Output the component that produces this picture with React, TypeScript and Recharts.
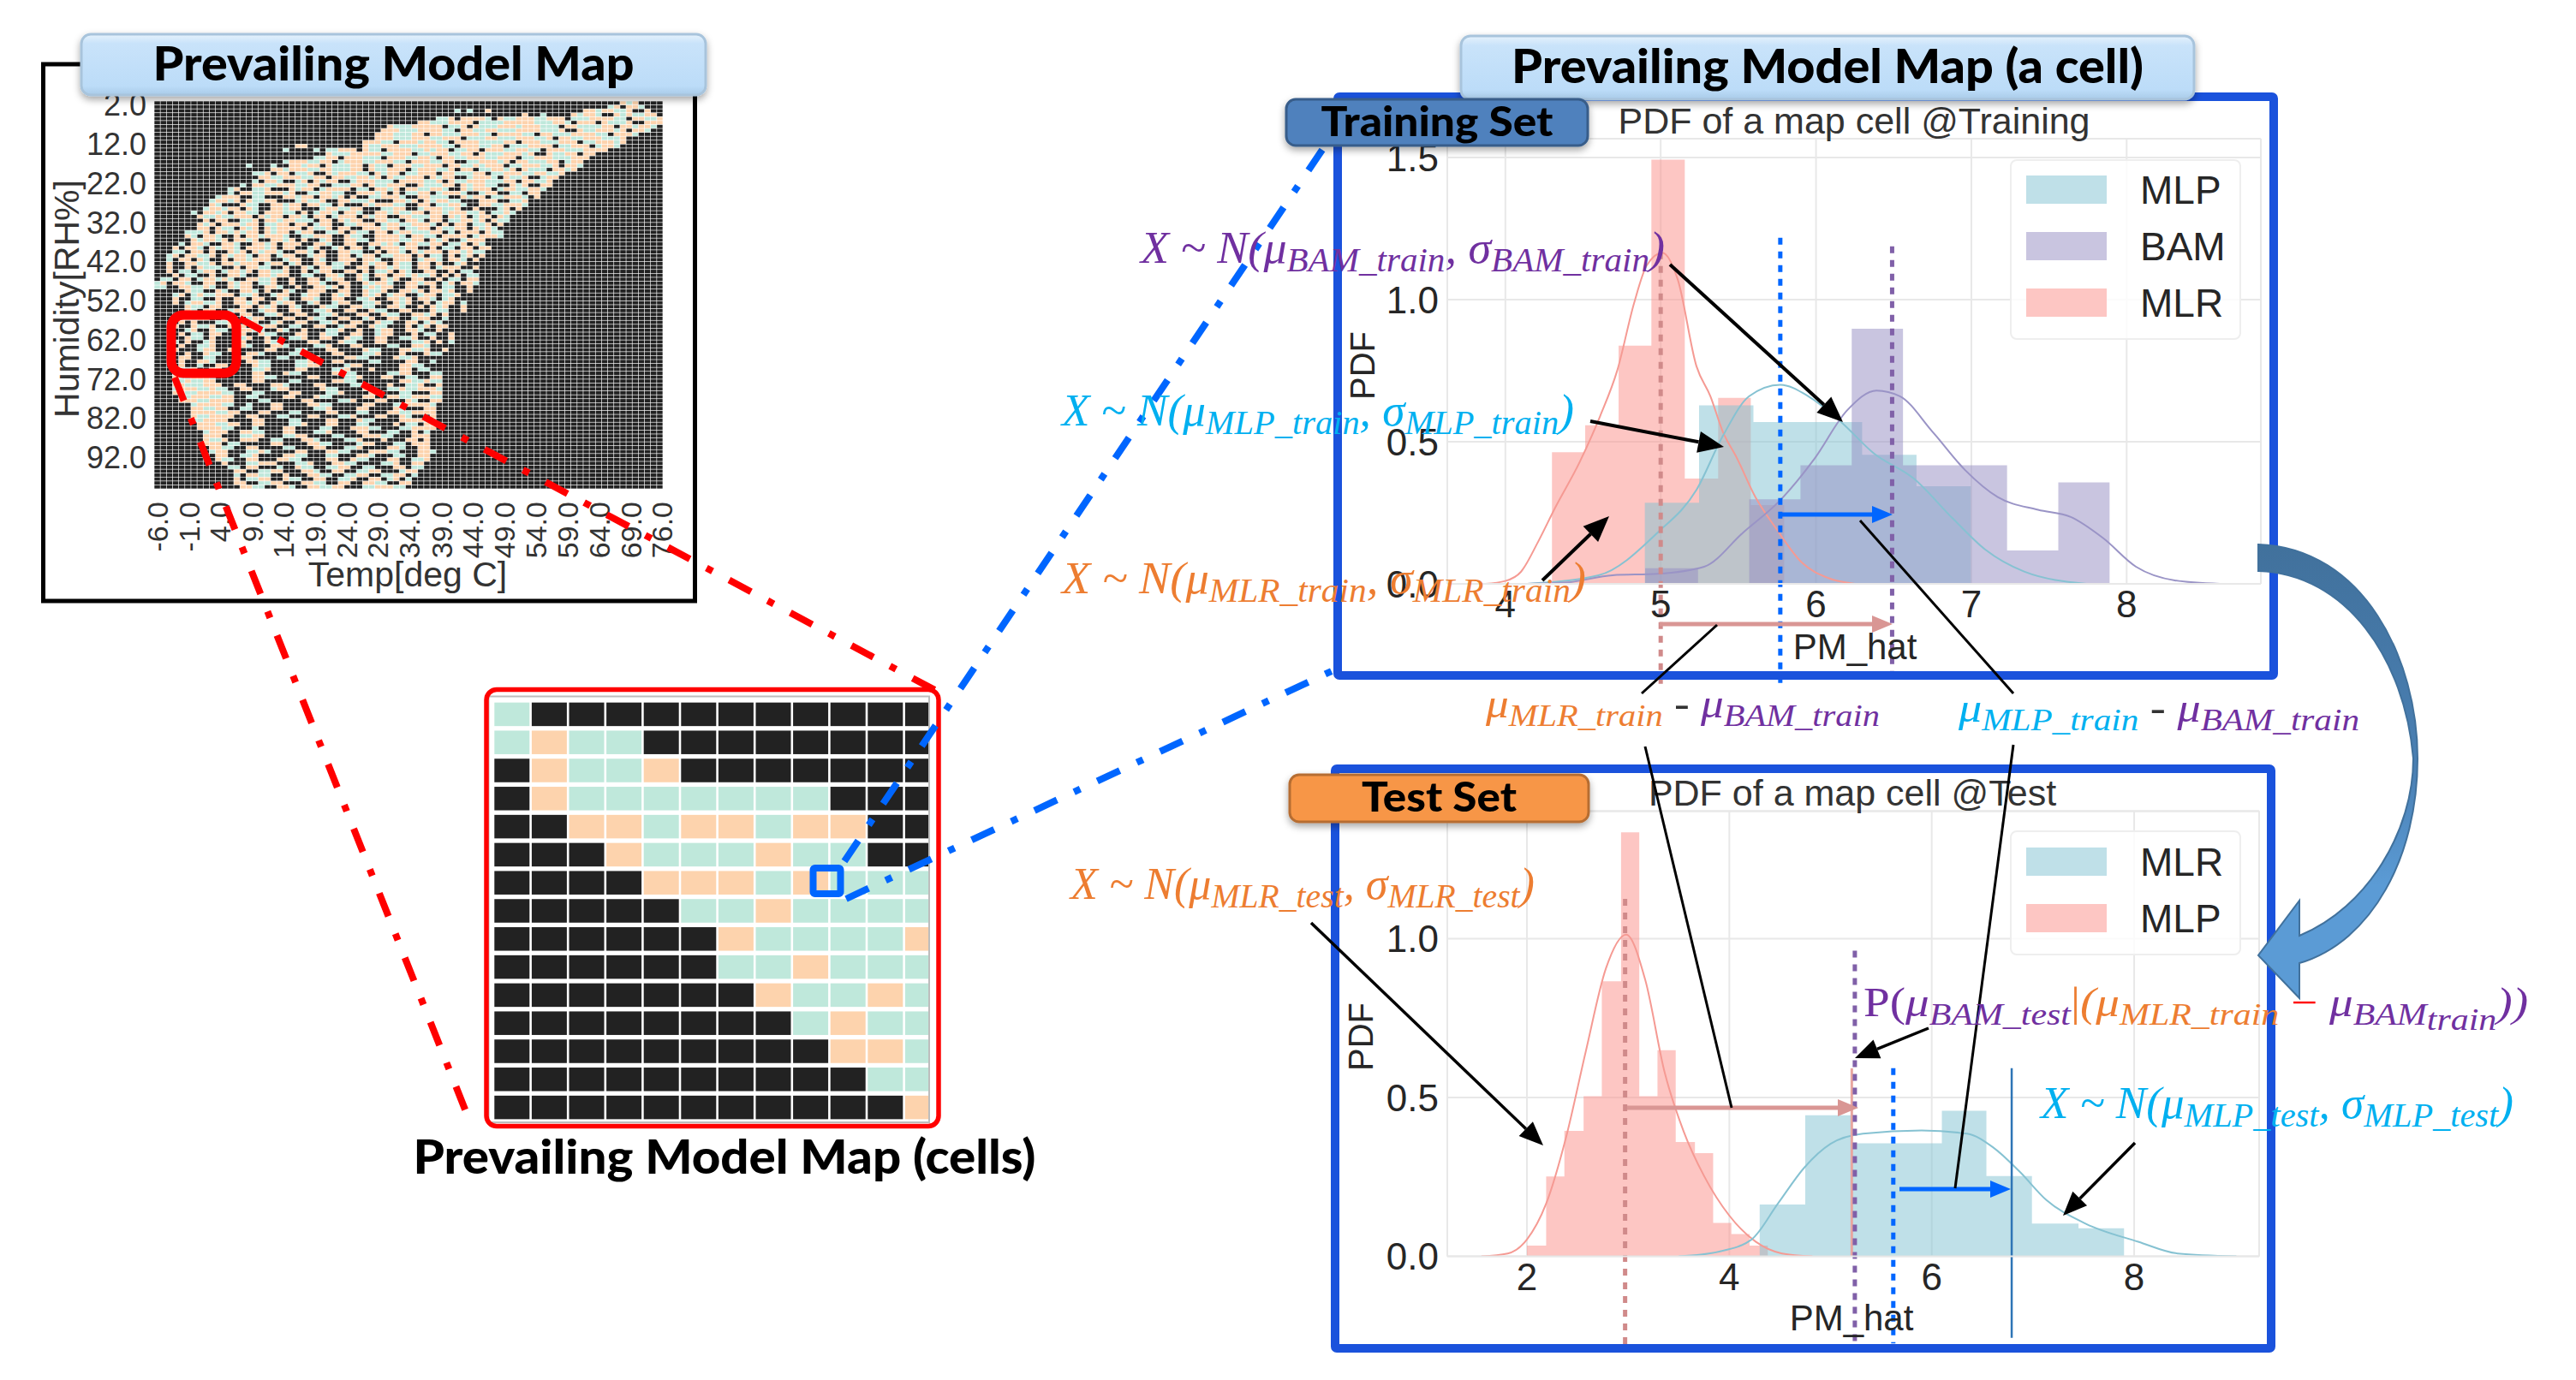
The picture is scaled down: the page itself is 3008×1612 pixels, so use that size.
import { ComposedChart, ScatterChart, Scatter, Area, Line, XAxis, YAxis, CartesianGrid, ReferenceLine, Legend } from 'recharts'

// ---- big map: cell kinds per row, t = teal, p = peach, k = black
const tempTicks = [-6, -1, 4, 9, 14, 19, 24, 29, 34, 39, 44, 49, 54, 59, 64, 69, 76]
const tempTickCols = [0, 5.2, 10.3, 15.5, 20.6, 25.8, 30.9, 36, 41.2, 46.4, 51.5, 56.7, 61.8, 67, 72.1, 77.3, 82.4]
const humidityTicks = [2, 12, 22, 32, 42, 52, 62, 72, 82, 92]
const mapCols = 83
const rowStart = [76,74,70,68,46,42,38,37,36,36,34,34,28,28,25,21,19,19,16,16,16,14,12,12,10,9,9,7,6,7,8,7,6,5,5,5,4,3,3,2,2,2,2,2,2,0,0,0,3,3,3,3,3,3,3,3,3,3,3,3,3,3,3,3,3,3,3,3,3,3,3,3,3,3,3,4,4,6,6,6,6,6,7,7,8,8,8,8,9,9,10,10,11,12,13,13,13,13,14]
const rowEnd = [78,79,80,81,82,82,81,80,78,77,76,75,73,71,70,69,69,68,66,65,64,64,63,62,62,61,60,59,58,58,57,56,56,56,56,54,54,54,53,53,52,52,52,52,52,52,52,51,51,50,50,50,50,50,49,47,47,48,48,48,48,48,47,47,47,46,46,46,46,46,46,46,46,46,46,46,46,45,45,45,45,45,45,45,44,44,44,44,44,45,44,44,43,43,42,42,41,41,40]
const rowCells = [
  'ptp','tppkpt','pptppttpkkp','ppttptpkktppt',
  'ttpkpppptkpttpppttpppktttppppttkppttp',
  'pppkkptttpkpppktpptttpppppttttkpppptttppk',
  'ptttpppppkttpkptttppptppptttkppttttppkpptppt',
  'tppkptpppttpkkptttpppptttppttppkttpppptttppp',
  'ppptttppkpptttpppttkppppttkpptttppppttkpppt',
  'kptttpppttppkpttppptttpptttkpppttppptttppp',
  'pppttkppptppttkppppttttppkppptttpppkttppptp',
  'tpptkpppttkpppptttkppttpppkttpppptttpppttp',
  'ttpppkpttkppppttptppkttppkpppttppttkppptttpppp',
  'ppkppttpkkptppptttpkppttpppttkpppttpppppttt',
  'kttppkppptttkpppttpptkppttpppttpppkttppptttppp',
  'pptkpptttppkptpppttkkppttpppkttpppttppptkppttpppt',
  'tkkpptppkptttppkpttkpppttpppkppttptpppkttpppttpkppt',
  'ptppktttpkptppttkppkpttppptkpppttpkpptttppttppptpp',
  'ttpkppkttpkkptpppttkptppkttpppkpptttppkttpppttppttp',
  'pptkkpttpktppptkkpptpkpppttpkptppttppkppttpppttppk',
  'tkpptkktpkptppkktppptttkppppttpkpttppptttppkppttp',
  'ppkkptpkkttpptpkpptttpkkpppttpkpptttkkppttpppttppkt',
  'tpkkttpkkkptppktppppkttkpptpkppttpptkkptpppktppttppt',
  'ppkttkkpptkktppptkppttkpkptpppkkttppttkkptpppttppktp',
  'tpppkkttkkkpptppkpptpkpkkttppptkkpptttkkptppkttppptkp',
  'kpttkkpppkkkttpptpkptppkkkptttppkkpttptkkkppttpkptppt',
  'ptkkkpttkkpptppkppttkpkkkptpppttkkppkttpptkkppttpppt',
  'pkptkkkpkkpttppptkkppttkkkppttpptkkkpptppkktpkpptpptk',
  'tkpptpkppttkpppttkpktpptkpptkkpptpttppkpptpppttpkttp',
  'ktpkpptkptpkpptttppkkpptpkppptkppktppkpptpkpppttpttp',
  'pkppkkttpkpptpptttkppkptppkkppttkpptkppkttpptpkptt',
  'pkpttkppkpktpppttpptkpppttkkpptkppkppttkpptpppkptp',
  'kppkpttkptpkptppppkpttpkppkkppptppkttppkpttppkptpt',
  'ttpkpppktkpptttpptkppkttpkpttkkpptkpptpkpptptppkpt',
  'ptkpptkkpkpptppptkkttpppkkpttkkpppptkppttkppppktpp',
  'kppptkkptpkppttppppkttppkkptkkpkptppkkptppkptpptp',
  'tkpptkkpptkkpptpkpppkkpptkkppkkpptptkppttppkttpkp',
  'ppkppkttkpkkpptpppktkppkptkkptkkppkptpppktpptpkt',
  'ttkppkpkkptpkptpptkkpptkpkkppttkkpkpptkptpppkpptp',
  'pkptkpkttkpkpppttkpptkppkkpptkkpptkppktpptpkpttp',
  'tkppkptkkpkpptpppkktppkkptkkpppkpptkkpppktpptkpp',
  'kkptkkpkppkttpkpptpkkpttkppkkptkpptkppptppkpttpp',
  'pkkpkptttkkpkppttkkpkkptkppttkkppkpptpttkppktpp',
  'kttkpkkppkktpkpttkpkppkkpptkpkkpttppkptpptkppt',
  'kpkttkkpkkpptkkpptppkkttkkpptkkptkppkpptpttpkp',
  'ppkttkpkkppkkptpkktpkkpptkppkkpkkpttppkktptpptk',
  'tpkpptkkppkkptppkttpkkpkkpptkkppkkptpptkkpptppk',
  'pkkttkpkkppkkpptptkkpkptppkkpkktppkkpptpkktpttp',
  'kkpttkkptkkpptkpkkptkkpppkkppkkpttpkkpptpkpptp',
  'kpttkpptkkpptkptpkkptpkkpptkkpptkkpttkpppttpt',
  'pkkttkkpkkppkppkkptkkpptkkppkkttpkkpptpkpptkt',
  'tkpptkpkkptpkkpttkkpptkkptkkpptpkkptppkkpttpp',
  'kkpttkppkkkppkptpkkptkkkpttkkppttkkpptkkpkptp',
  'pkkttpkkkppkkttpkkppkkpttkkppkkpptkkpptkkppkt',
  'kkppkkptpkkppkkttpkkppkkttpkkkppkkpttkkpptpkp',
  'tkkpptkkppkkptkkppkkttpkkppkkkpptkkptkkpptppk',
  'kpkpkkkttpkkppkktpkkppkkttpkkppkkpttkkppktpt',
  'kppkptkpkkkttpkkpptkkppkkttkkpptkkptpkkpttpk',
  'kktpkkpttkkppttkkptkkpkkkttpkkpkktppkkpptkkp',
  'pkkttkpkkkpptkkppkkttpkkppkkkttpkkptkkppkttk',
  'kkpttkpkkkttpkkpkkkttpkkppkkpttkkppkkttpkkp',
  'tkpkpttkkkkppkkkttpkkkppkkkkttpkkkppkkkptkkpk',
  'kpkkttpkkkkptkkkpptkkkkttpkkkppkkkkttkkpptkkk',
  'pkkpttppkkkttpkkkkppkkkttkkkppkkkktpkkpptkkkp',
  'kkpkkpttkkkkpptkkkkttpkkkkppkkkttpkkkpkkkpttk',
  'kkkkpttpkkkkttppkkkkppkkkttkkkkppkkkkttkkppk',
  'kpkkpptkkkkkppttkkkkttpkkkppkkkkttkkkkppkkt',
  'kkkttppkkkkkkpptkkkkppttkkkkttpkkkkppkktkkp',
  'kttpkkppkkkkkttpkkkkppkkkkttpkkkpkkkkppkttk',
  'ttkkkppttkkkkkttppkkkkkttpkkkppkkkttkkkpptk',
  'pttppptkkkkkkppttkkkkkppkkkkttpkkkppkkttkkp',
  'ttpttppkkkkkkkttppkkkkkttkkkkppkkkkttkkppkk',
  'pptttpppkkppkkkkpptkkkkppkkkkttpkkkpkkttpkk',
  'tpppttpttkkppkkkkttpkkkkkpptkkkppkkkkttkkpp',
  'ppttppppttkkkttkkkkppkkkkttpkkkkppkkkttkkkp',
  'ttpppttppkkppkkkkkttpkkkppkkkkttkkkppkkkp',
  'pppttppppkkkkttkkkkkppkkkkttpkkkppkkkptkk',
  'tppppttkkkppkkkkkttppkkkkppkkkttkkkppkk',
  'ppttppkkttkkkppkkkkkttpkkkkppkkkkptkkkp',
  'ppppttppkkkttkkkppkkkkttkkkppkkkttpkkkp',
  'pttppppkkppkkkttkkkppkkkttpkkkppkkptkkk',
  'ttppppkkkkttpkkkppkkkkttkkkkppkkkttpkkk',
  'pppttppkkppkkkkttpkkkppkkkttkkkkpkttkpp',
  'ppppttkkkttpppkkkttkkkkppkkkkttkkkppkk',
  'tpppkkppttkkkppkkkttpkkkkppkkkttkkpk',
  'pppkkkttpppkkkttkkkkppttkkkppkkkttpk',
  'pttpkkpppkkttkkkpptkkkkttpkkkpkkkppk',
  'pppkttkkkpptkkkkttppkkkkppkkkttkkkt',
  'ppttkkppkkkkttkkkppkkkttpkkkkpptkkp',
  'tppkkkttpppkkkttppkkkppkkkkttkppkkkpt',
  'ppkkttpkkkkppttkkkttkkkpptkkkttkkp',
  'pttkkppkkkttpkkppkkkkttppkkkppkkt',
  'pkkkttpppkkkttpkkkppttkkkkttpkkp',
  'ttkppkkkttkkppttkkttpkkkppkkpp',
  'ppkkttppkkkpptkkppkkttppkkkt',
  'tkppttkkppttkkttppkkkpptkkp',
  'pkttppkkpttkkppkkttpkkppkt',
  'ppkkttppkkppkkttppkkppkkt',
  'ppttkkpptkkppttppkkkttp',
]
// a few single cells floating above the main mass: col, row, kind
const mapSpeckCols = [49, 51, 54, 60, 63, 23, 24, 21, 26, 15]
const mapSpeckRows = [2, 2, 2, 3, 3, 11, 11, 12, 12, 16]
const mapSpeckKinds = ['t', 't', 'p', 'p', 't', 'p', 'p', 't', 't', 't']

// ---- zoomed map cells
const cellRows = [
  'tkkkkkkkkkkk',
  'tpttkkkkkkkk',
  'kpttpkkkkkkk',
  'kptttttttkkk',
  'kkpptpptppkk',
  'kkkptttpttkk',
  'kkkkppptpttt',
  'kkkkkttpttttt',
  'kkkkkkpttttpt',
  'kkkkkkttpttt',
  'kkkkkkkpttpt',
  'kkkkkkkktptt',
  'kkkkkkkkkppt',
  'kkkkkkkkkktt',
  'kkkkkkkkkkkp',
]

// ---- training histograms (bin edges and heights) and density curves
const mlrTrainEdges = [4.30, 4.514, 4.729, 4.94, 5.155, 5.37, 5.58, 5.795]
const mlrTrainHeights = [0.463, 0.558, 0.838, 1.492, 0.37, 0.654, 0.277]
const mlpTrainEdges = [4.898, 5.247, 5.597, 5.947, 6.297, 6.647, 6.996]
const mlpTrainHeights = [0.285, 0.628, 0.569, 0.569, 0.454, 0.343]
const bamTrainEdges = [4.90, 5.24, 5.57, 5.90, 6.23, 6.56, 6.89, 7.23, 7.56, 7.89]
const bamTrainHeights = [0.055, 0, 0.297, 0.417, 0.897, 0.417, 0.417, 0.117, 0.357]

const mlrTrainKdeX = [3.87, 4.0, 4.1, 4.21, 4.32, 4.48, 4.61, 4.72, 4.83, 4.91, 5.01, 5.11, 5.23, 5.32, 5.4, 5.49, 5.61, 5.74, 5.91, 6.08, 6.25]
const mlrTrainKdeY = [0, 0.01, 0.042, 0.147, 0.267, 0.43, 0.59, 0.75, 0.99, 1.12, 1.165, 1.07, 0.766, 0.66, 0.535, 0.443, 0.305, 0.197, 0.074, 0.02, 0]
const mlpTrainKdeX = [4.14, 4.6, 4.98, 5.23, 5.4, 5.57, 5.77, 5.95, 6.16, 6.37, 6.63, 6.88, 7.09, 7.34, 7.74]
const mlpTrainKdeY = [0, 0.03, 0.18, 0.33, 0.52, 0.66, 0.7, 0.66, 0.57, 0.46, 0.37, 0.23, 0.12, 0.043, 0]
const bamTrainKdeX = [4.14, 4.4, 4.69, 4.98, 5.28, 5.53, 5.78, 5.99, 6.2, 6.39, 6.54, 6.75, 6.96, 7.17, 7.43, 7.64, 7.85, 8.06, 8.31, 8.6]
const bamTrainKdeY = [0, 0.005, 0.03, 0.035, 0.06, 0.18, 0.3, 0.44, 0.61, 0.68, 0.66, 0.535, 0.4, 0.305, 0.26, 0.235, 0.16, 0.06, 0.012, 0]

// ---- test histograms and density curves
const mlpTestEdges = [2.0, 2.19, 2.37, 2.56, 2.74, 2.93, 3.11, 3.29, 3.47, 3.66, 3.84, 4.02, 4.2, 4.38]
const mlpTestHeights = [0.034, 0.251, 0.395, 0.504, 0.866, 1.335, 0.504, 0.649, 0.36, 0.325, 0.105, 0.07, 0.034]
const mlrTestEdges = [4.3, 4.75, 5.2, 5.65, 6.1, 6.54, 6.99, 7.45, 7.9]
const mlrTestHeights = [0.163, 0.444, 0.356, 0.356, 0.458, 0.253, 0.103, 0.088]

const mlpTestKdeX = [1.55, 1.81, 2.0, 2.19, 2.39, 2.58, 2.78, 2.98, 3.17, 3.36, 3.55, 3.75, 4.0, 4.26, 4.52, 4.82]
const mlpTestKdeY = [0, 0.009, 0.053, 0.166, 0.379, 0.643, 0.906, 1.013, 0.869, 0.58, 0.392, 0.253, 0.128, 0.046, 0.009, 0]
const mlrTestKdeX = [3.5, 3.9, 4.22, 4.48, 4.74, 5.0, 5.32, 5.9, 6.35, 6.61, 6.87, 7.13, 7.52, 8.04, 8.43, 9.01]
const mlrTestKdeY = [0, 0.015, 0.053, 0.166, 0.279, 0.354, 0.386, 0.396, 0.386, 0.342, 0.266, 0.178, 0.103, 0.046, 0.009, 0]

const tealBase = '#80c1d2'
const bamBase = '#938bc1'
const salmonBase = '#fb8e87'
const trainLegendNames = ['MLP', 'BAM', 'MLR']
const trainLegendColors = ['#bfe0e8', '#c9c5e0', '#fdc6c3']
const testLegendNames = ['MLR', 'MLP']
const testLegendColors = ['#bfe0e8', '#fdc6c3']

const steps = (edges: number[], heights: number[]) => edges.map((x, i) => ({ x, y: heights[i] ?? 0 }))
const curve = (xs: number[], ys: number[]) => xs.map((x, i) => ({ x, y: ys[i] }))

const SANS = '"Liberation Sans", Arial, sans-serif'
const BOLD = 'Lato, "Noto Sans", sans-serif'
const PURPLE = '#7030a0'
const CYAN = '#00b0f0'
const ORANGE = '#ed7d31'
const BLUE = '#0066ff'
const RED = '#ff0000'

const kindColors: Record<string, string> = { t: '#bfe8db', p: '#fdd3ad', k: '#222222' }
const kindNames = ['k', 't', 'p']

function cellShape(w: number, h: number, fill: string) {
  return (p: any) => <rect x={p.cx - w / 2} y={p.cy - h / 2} width={w} height={h} fill={fill} />
}

function bigMapData() {
  const all: Record<string, { col: number; row: number }[]> = { t: [], p: [], k: [] }
  for (let row = 0; row < rowStart.length; row++) {
    const cells = rowCells[row]
    // lower rows keep their light left edge, odd rows are typed right to left
    const lead = row >= 70 ? 9 : 0
    for (let col = 0; col < mapCols; col++) {
      let kind = 'k'
      if (col >= rowStart[row] && col <= rowEnd[row]) {
        const fromLeft = col - rowStart[row]
        const fromRight = rowEnd[row] - col
        kind = row % 2 === 1 && fromLeft >= lead ? cells[fromRight % cells.length] : cells[fromLeft % cells.length]
      }
      const sp = mapSpeckCols.findIndex((c, i) => c === col && mapSpeckRows[i] === row)
      if (sp >= 0) kind = mapSpeckKinds[sp]
      all[kind].push({ col, row })
    }
  }
  return all
}

function cellMapData() {
  const all: Record<string, { col: number; row: number }[]> = { t: [], p: [], k: [] }
  cellRows.forEach((r, row) => r.split('').forEach((kind, col) => all[kind].push({ col, row })))
  return all
}

function BigMap() {
  const data = bigMapData()
  return (
    <div style={{ position: 'absolute', left: 48, top: 72 }}>
      <ScatterChart width={770} height={630} margin={{ top: 46, right: 44, bottom: 0, left: 0 }}>
        <XAxis
          type="number" dataKey="col" domain={[-0.5, mapCols - 0.5]} ticks={tempTickCols}
          interval={0} height={131} axisLine={false} tickLine={false}
          tick={({ x, y, index }: any) => (
            <text x={x} y={y + 7} transform={`rotate(-90 ${x} ${y + 7})`} textAnchor="end" dominantBaseline="central" fontSize={34} fill="#333" fontFamily={SANS}>
              {tempTicks[index].toFixed(1)}
            </text>
          )}
        />
        <YAxis
          type="number" dataKey="row" reversed domain={[-0.5, rowStart.length - 0.5]} ticks={humidityTicks.map(t => t - 2 + 0.5)}
          interval={0} width={132} axisLine={false} tickLine={false} tickSize={0} tickMargin={9}
          tick={{ fontSize: 36, fill: '#333', fontFamily: SANS }} tickFormatter={v => (v - 0.5 + 2).toFixed(1)}
        />
        {kindNames.map(k => (
          <Scatter key={k} data={data[k]} isAnimationActive={false} shape={cellShape(6.5, 3.9, kindColors[k])} />
        ))}
      </ScatterChart>
    </div>
  )
}

function CellMap() {
  const data = cellMapData()
  return (
    <div style={{ position: 'absolute', left: 570, top: 815, width: 515, height: 495, overflow: 'hidden' }}>
      <ScatterChart width={560} height={495} margin={{ top: 3, right: 9, bottom: 0, left: 6 }}>
        <XAxis hide type="number" dataKey="col" domain={[-0.5, 11.5]} />
        <YAxis hide type="number" dataKey="row" reversed domain={[-0.5, 14.5]} />
        {kindNames.map(k => (
          <Scatter key={k} data={data[k]} isAnimationActive={false} shape={cellShape(41, 27.5, kindColors[k])} />
        ))}
      </ScatterChart>
    </div>
  )
}

function legendBox(names: string[], colors: string[], height: number, gap: number, pad: number) {
  return () => (
    <div style={{ width: 270, height, boxSizing: 'border-box', border: '2px solid #eeeeee', borderRadius: 8, background: 'rgba(255,255,255,0.8)', paddingTop: pad }}>
      {names.map((n, i) => (
        <div key={n} style={{ display: 'flex', alignItems: 'center', height: 33, marginBottom: gap, marginLeft: 17 }}>
          <div style={{ width: 94, height: 33, background: colors[i] }} />
          <span style={{ marginLeft: 39, fontSize: 46, color: '#262626', fontFamily: SANS }}>{n}</span>
        </div>
      ))}
    </div>
  )
}

const tickStyle = { fontSize: 44, fill: '#262626', fontFamily: SANS }

function PdfChart({ left, top, width, height, margin, xDomain, yDomain, xTicks, yTicks, children, legend }: any) {
  return (
    <div style={{ position: 'absolute', left, top }}>
      <ComposedChart width={width} height={height} margin={margin}>
        <CartesianGrid stroke="#e8e8e8" strokeWidth={2} />
        <XAxis type="number" dataKey="x" domain={xDomain} ticks={xTicks} allowDataOverflow height={height - margin.top - (yDomain[1] * yDomain[2])} axisLine={{ stroke: '#e8e8e8', strokeWidth: 2 }} tickLine={false} tickSize={0} tickMargin={8} tick={tickStyle} />
        <YAxis type="number" domain={[0, yDomain[1]]} ticks={yTicks} allowDataOverflow width={190} axisLine={{ stroke: '#e8e8e8', strokeWidth: 2 }} tickLine={false} tickSize={0} tickMargin={10} tick={tickStyle} tickFormatter={v => v.toFixed(1)} />
        <ReferenceLine x={xDomain[1]} stroke="#e8e8e8" strokeWidth={2} />
        <ReferenceLine y={yDomain[1]} stroke="#e8e8e8" strokeWidth={2} />
        {legend}
        {children}
      </ComposedChart>
    </div>
  )
}

const hist = (name: string, edges: number[], heights: number[], fill: string) => (
  <Area key={name} name={name} data={steps(edges, heights)} dataKey="y" type="stepAfter" stroke="none" fill={fill} fillOpacity={0.5} isAnimationActive={false} dot={false} activeDot={false} />
)
const kde = (name: string, xs: number[], ys: number[], color: string) => (
  <Line key={name} name={name} data={curve(xs, ys)} dataKey="y" type="monotone" stroke={color} strokeWidth={2} dot={false} activeDot={false} isAnimationActive={false} />
)
const meanLine = (x: number, yTop: number, yBottom: number, color: string, width = 5, dash = '8 8') => (
  <ReferenceLine key={`${x}-${color}`} segment={[{ x, y: yTop }, { x, y: yBottom }]} stroke={color} strokeWidth={width} strokeDasharray={dash} ifOverflow="visible" />
)

function TitleBar({ x, y, w, h, fill, stroke, label, size, len, textX }: any) {
  return (
    <g>
      <rect x={x} y={y} width={w} height={h} rx={11} fill={fill} stroke={stroke} strokeWidth={3} filter="url(#barShadow)" />
      <text x={textX ?? x + w / 2} y={y + h / 2 + size * 0.33} textAnchor="middle" fontFamily={BOLD} fontWeight={900} fontSize={size} fill="#000" textLength={len} lengthAdjust="spacingAndGlyphs">{label}</text>
    </g>
  )
}

function Arrow({ x1, y1, x2, y2, color = '#000', w = 4, head = 24 }: any) {
  const a = Math.atan2(y2 - y1, x2 - x1)
  const bx = x2 - head * Math.cos(a)
  const by = y2 - head * Math.sin(a)
  const nx = -Math.sin(a) * head * 0.42
  const ny = Math.cos(a) * head * 0.42
  return (
    <g>
      <line x1={x1} y1={y1} x2={bx} y2={by} stroke={color} strokeWidth={w} />
      <polygon points={`${x2},${y2} ${bx + nx},${by + ny} ${bx - nx},${by - ny}`} fill={color} />
    </g>
  )
}

type Part = { t: string; c: string; lvl?: number; up?: boolean }
function MathLabel({ x, y, len, size = 52, parts }: { x: number; y: number; len: number; size?: number; parts: Part[] }) {
  let level = 0
  const shifts = [0, size * 0.2, size * 0.34]
  return (
    <text x={x} y={y} fontFamily='"Liberation Serif", serif' fontStyle="italic" textLength={len} lengthAdjust="spacingAndGlyphs">
      {parts.map((p, i) => {
        const next = p.lvl ?? 0
        const dy = shifts[next] - shifts[level]
        level = next
        return (
          <tspan key={i} dy={dy} fill={p.c} fontSize={next === 0 ? size : size * 0.76} fontStyle={p.up ? 'normal' : 'italic'}>{p.t}</tspan>
        )
      })}
    </text>
  )
}

const normalLabel = (c: string, mu: string): Part[] => [
  { t: 'X ~ N(μ', c }, { t: mu, c, lvl: 1 }, { t: ', σ', c }, { t: mu, c, lvl: 1 }, { t: ')', c },
]

function Overlay() {
  const dashDot = '29 22 8 22'
  return (
    <svg width={3008} height={1612} style={{ position: 'absolute', left: 0, top: 0, pointerEvents: 'none' }}>
      <defs>
        <linearGradient id="barFill" x1="0" y1="0" x2="0" y2="1">
          <stop offset="0" stopColor="#e6f2fc" />
          <stop offset="0.15" stopColor="#c9e3fa" />
          <stop offset="0.85" stopColor="#bcdcf8" />
          <stop offset="1" stopColor="#a9cbe8" />
        </linearGradient>
        <linearGradient id="curveFill" x1="0" y1="0" x2="0" y2="1">
          <stop offset="0" stopColor="#41719c" />
          <stop offset="0.5" stopColor="#4a80b4" />
          <stop offset="0.75" stopColor="#5b9bd5" />
          <stop offset="1" stopColor="#5b9bd5" />
        </linearGradient>
        <filter id="barShadow" x="-5%" y="-20%" width="110%" height="150%">
          <feDropShadow dx="0" dy="4" stdDeviation="4" floodColor="#000" floodOpacity="0.35" />
        </filter>
      </defs>

      {/* left map frame and labels */}
      <rect x={50.5} y={75} width={761} height={627} fill="none" stroke="#000" strokeWidth={5} />
      <text x={476} y={685} textAnchor="middle" fontSize={41} fill="#333" fontFamily={SANS}>Temp[deg C]</text>
      <text transform="translate(92 349) rotate(-90)" textAnchor="middle" fontSize={41} fill="#333" fontFamily={SANS}>Humidity[RH%]</text>

      {/* cell map frame */}
      <rect x={570.5} y={813.5} width={514.5} height={497.5} fill="none" stroke="#bdbdbd" strokeWidth={2} />
      <rect x={568} y={805.5} width={528} height={510} rx={12} fill="none" stroke={RED} strokeWidth={5.5} />
      <rect x={949.5} y={1014} width={32} height={30} rx={2} fill="none" stroke={BLUE} strokeWidth={8} />
      <text x={846} y={1371} textAnchor="middle" fontFamily={BOLD} fontWeight={900} fontSize={56} fill="#000" textLength={727} lengthAdjust="spacingAndGlyphs">Prevailing Model Map (cells)</text>

      {/* zoom lines */}
      <rect x={200} y={368} width={76} height={68} rx={14} fill="none" stroke={RED} strokeWidth={11} />
      <line x1={280} y1={372} x2={1099} y2={810} stroke={RED} strokeWidth={8} strokeDasharray={dashDot} />
      <line x1={204} y1={441} x2={549} y2={1311} stroke={RED} strokeWidth={8} strokeDasharray={dashDot} />
      <line x1={986} y1={1006} x2={1546} y2={172} stroke={BLUE} strokeWidth={8} strokeDasharray={dashDot} />
      <line x1={988} y1={1050} x2={1557} y2={783} stroke={BLUE} strokeWidth={8} strokeDasharray={dashDot} />

      {/* chart frames */}
      <rect x={1562} y={113} width={1093} height={676} fill="none" stroke="#1a52dc" strokeWidth={10} rx={2} />
      <rect x={1559} y={898} width={1093} height={677} fill="none" stroke="#1a52dc" strokeWidth={10} rx={2} />

      {/* chart captions */}
      <text x={2165} y={156} textAnchor="middle" fontSize={43} fill="#333" fontFamily={SANS}>PDF of a map cell @Training</text>
      <text x={2163} y={941} textAnchor="middle" fontSize={43} fill="#333" fontFamily={SANS}>PDF of a map cell @Test</text>
      <text x={2166} y={770} textAnchor="middle" fontSize={42} fill="#262626" fontFamily={SANS}>PM_hat</text>
      <text x={2162} y={1554} textAnchor="middle" fontSize={42} fill="#262626" fontFamily={SANS}>PM_hat</text>
      <text transform="translate(1605 427) rotate(-90)" textAnchor="middle" fontSize={40} fill="#262626" fontFamily={SANS}>PDF</text>
      <text transform="translate(1603 1211) rotate(-90)" textAnchor="middle" fontSize={40} fill="#262626" fontFamily={SANS}>PDF</text>

      {/* curved arrow */}
      <path d="M2637 636 C2760 640 2823 770 2823 886 C2823 1000 2770 1100 2685 1125 L2685 1166 L2637 1116 L2685 1052 L2685 1093 C2765 1060 2818 970 2818 886 C2808 770 2740 670 2637 667 Z" fill="url(#curveFill)" stroke="#41719c" strokeWidth={2} />

      {/* difference arrows */}
      <Arrow x1={1938} y1={729} x2={2210} y2={729} color="#d99694" w={5} head={24} />
      <Arrow x1={2079} y1={601} x2={2210} y2={601} color={BLUE} w={5} head={24} />
      <Arrow x1={1900} y1={1294} x2={2170} y2={1294} color="#d99694" w={5} head={24} />
      <Arrow x1={2218} y1={1389} x2={2348} y2={1389} color={BLUE} w={5} head={24} />

      {/* black pointers */}
      <Arrow x1={1950} y1={309} x2={2152} y2={493} w={4} head={30} />
      <Arrow x1={1857} y1={492} x2={2013} y2={522} w={4} head={30} />
      <Arrow x1={1801} y1={678} x2={1879} y2={603} w={4} head={30} />
      <line x1={2005} y1={730} x2={1917} y2={810} stroke="#000" strokeWidth={3} />
      <line x1={1921} y1={872} x2={2022} y2={1294} stroke="#000" strokeWidth={3} />
      <line x1={2172} y1={608} x2={2351} y2={810} stroke="#000" strokeWidth={3} />
      <line x1={2351} y1={870} x2={2283} y2={1388} stroke="#000" strokeWidth={3} />
      <Arrow x1={1531} y1={1078} x2={1802} y2={1338} w={3.5} head={28} />
      <Arrow x1={2252} y1={1201} x2={2166} y2={1236} w={3.5} head={28} />
      <Arrow x1={2493} y1={1335} x2={2409} y2={1420} w={3.5} head={28} />

      {/* formulas */}
      <MathLabel x={1332} y={307} len={612} parts={normalLabel(PURPLE, 'BAM_train')} />
      <MathLabel x={1240} y={497} len={598} parts={normalLabel(CYAN, 'MLP_train')} />
      <MathLabel x={1240} y={693} len={612} parts={normalLabel(ORANGE, 'MLR_train')} />
      <MathLabel x={1250} y={1050} len={542} parts={normalLabel(ORANGE, 'MLR_test')} />
      <MathLabel x={2383} y={1306} len={552} parts={normalLabel(CYAN, 'MLP_test')} />
      <MathLabel x={1735} y={838} len={460} size={48} parts={[
        { t: 'μ', c: ORANGE }, { t: 'MLR_train', c: ORANGE, lvl: 1 }, { t: ' - ', c: '#333', up: true }, { t: 'μ', c: PURPLE }, { t: 'BAM_train', c: PURPLE, lvl: 1 },
      ]} />
      <MathLabel x={2287} y={843} len={468} size={48} parts={[
        { t: 'μ', c: CYAN }, { t: 'MLP_train', c: CYAN, lvl: 1 }, { t: ' - ', c: '#333', up: true }, { t: 'μ', c: PURPLE }, { t: 'BAM_train', c: PURPLE, lvl: 1 },
      ]} />
      <MathLabel x={2176} y={1187} len={776} size={48} parts={[
        { t: 'P(', c: PURPLE, up: true }, { t: 'μ', c: PURPLE }, { t: 'BAM_test', c: PURPLE, lvl: 1 }, { t: '|', c: ORANGE, up: true }, { t: '(μ', c: ORANGE },
        { t: 'MLR_train', c: ORANGE, lvl: 1 }, { t: ' − ', c: RED, up: true }, { t: 'μ', c: PURPLE }, { t: 'BAM', c: PURPLE, lvl: 1 }, { t: 'train', c: PURPLE, lvl: 2 }, { t: '))', c: PURPLE },
      ]} />

      {/* title bars */}
      <TitleBar x={95} y={40} w={729} h={71} fill="url(#barFill)" stroke="#a8c4dc" label="Prevailing Model Map" size={56} len={562} />
      <TitleBar x={1706} y={42} w={856} h={74} fill="url(#barFill)" stroke="#a8c4dc" label="Prevailing Model Map (a cell)" size={56} len={738} />
      <TitleBar x={1502} y={116} w={352} h={54} fill="#4f81bd" stroke="#385d8a" label="Training Set" size={48} len={271} />
      <TitleBar x={1506} y={905} w={349} h={55} fill="#f79646" stroke="#b66d31" label="Test Set" size={48} len={181} />
    </svg>
  )
}

export default function App() {
  const trainLegend = (
    <Legend layout="vertical" align="center" verticalAlign="middle" content={legendBox(trainLegendNames, trainLegendColors, 211, 33, 17)} wrapperStyle={{ left: 847, top: 66, width: 270, height: 211 }} />
  )
  const testLegend = (
    <Legend layout="vertical" align="center" verticalAlign="middle" content={legendBox(testLegendNames, testLegendColors, 146, 33, 18)} wrapperStyle={{ left: 847, top: 70, width: 270, height: 146 }} />
  )
  return (
    <div style={{ position: 'absolute', left: 0, top: 0, width: 3008, height: 1612, background: '#fff', overflow: 'hidden', fontFamily: SANS }}>
      <BigMap />
      <CellMap />
      <PdfChart
        left={1500} top={120} width={1150} height={700}
        margin={{ top: 42, right: 10, bottom: 0, left: 0 }}
        xDomain={[3.626, 8.864]} yDomain={[0, 1.566, 332]} xTicks={[4, 5, 6, 7, 8]} yTicks={[0, 0.5, 1, 1.5]} legend={trainLegend}
      >
        {hist('MLR', mlrTrainEdges, mlrTrainHeights, salmonBase)}
        {hist('MLP', mlpTrainEdges, mlpTrainHeights, tealBase)}
        {hist('BAM', bamTrainEdges, bamTrainHeights, bamBase)}
        {kde('MLR kde', mlrTrainKdeX, mlrTrainKdeY, '#f59a93')}
        {kde('MLP kde', mlpTrainKdeX, mlpTrainKdeY, '#86c2d2')}
        {kde('BAM kde', bamTrainKdeX, bamTrainKdeY, '#9a94c6')}
        {meanLine(5.0, 1.166, -0.355, '#d08a8a')}
        {meanLine(5.77, 1.217, -0.355, BLUE)}
        {meanLine(6.49, 1.187, -0.355, '#8060a8')}
      </PdfChart>
      <PdfChart
        left={1500} top={900} width={1150} height={690}
        margin={{ top: 47.5, right: 12, bottom: 0, left: 0 }}
        xDomain={[1.213, 9.235]} yDomain={[0, 1.4016, 371]} xTicks={[2, 4, 6, 8]} yTicks={[0, 0.5, 1]} legend={testLegend}
      >
        {hist('MLP', mlpTestEdges, mlpTestHeights, salmonBase)}
        {hist('MLR', mlrTestEdges, mlrTestHeights, tealBase)}
        {kde('MLP kde', mlpTestKdeX, mlpTestKdeY, '#f59a93')}
        {kde('MLR kde', mlrTestKdeX, mlrTestKdeY, '#86c2d2')}
        {meanLine(5.21, 0.592, 0, '#e8a6a0', 3, '')}
        {meanLine(2.97, 1.125, -0.287, '#d08a8a')}
        {meanLine(5.24, 0.962, -0.287, '#8060a8')}
        {meanLine(5.62, 0.592, -0.274, BLUE)}
        {meanLine(6.79, 0.592, -0.257, '#2e75b6', 2.5, '')}
      </PdfChart>
      <Overlay />
    </div>
  )
}
